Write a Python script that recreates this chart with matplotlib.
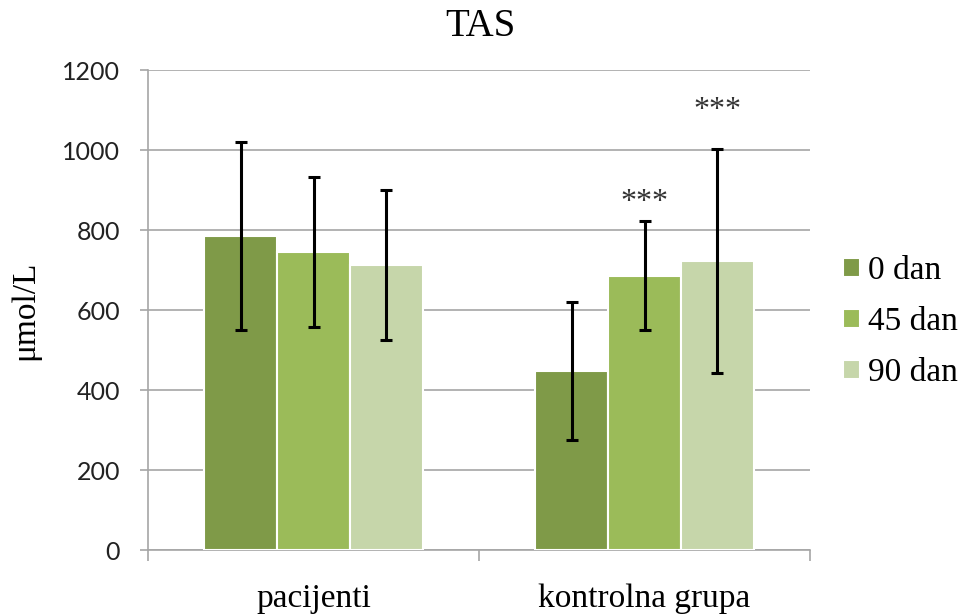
import matplotlib
matplotlib.use("Agg")
import matplotlib.pyplot as plt
import numpy as np

categories = ["pacijenti", "kontrolna grupa"]
series = ["0 dan", "45 dan", "90 dan"]
means = {
    "0 dan": [785, 448],
    "45 dan": [745, 686],
    "90 dan": [712, 723],
}
sds = {
    "0 dan": [235, 172],
    "45 dan": [187, 137],
    "90 dan": [187, 280],
}
annotations = {("45 dan", 1): "***", ("90 dan", 1): "***"}
colors = ["#7F9A48", "#9BBB59", "#C6D6AA"]

serif = "Liberation Serif"

fig = plt.figure(figsize=(9.63, 6.14), dpi=100)
ax = fig.add_axes([148/963, 64/614, 662/963, 480/614])

x = np.arange(len(categories))
width = 0.22
for i, s in enumerate(series):
    pos = x + (i - 1) * width
    ax.bar(pos, means[s], width, color=colors[i], edgecolor="white",
           linewidth=1.5, zorder=3, label=s)
    ax.errorbar(pos, means[s], yerr=sds[s], fmt="none", ecolor="black",
                elinewidth=2.2, capsize=4.3, capthick=2.2, zorder=4)
    for j in range(len(categories)):
        if (s, j) in annotations:
            top = means[s][j] + sds[s][j]
            ax.text(pos[j], top + 10 if s == "45 dan" else top + 60,
                    annotations[(s, j)], ha="center", va="bottom",
                    fontsize=23, family=serif, color="#333333")

ax.set_xlim(-0.5, 1.5)
ax.set_ylim(0, 1200)
ax.set_yticks(range(0, 1201, 200))
ax.yaxis.grid(True, color="#A6A6A6", linewidth=1.2, zorder=0)
ax.set_axisbelow(True)
for sp in ["top", "right"]:
    ax.spines[sp].set_visible(False)
for sp in ["left", "bottom"]:
    ax.spines[sp].set_color("#A6A6A6")
    ax.spines[sp].set_linewidth(1.2)

ax.set_xticks(x)
ax.set_xticklabels(categories, fontsize=24, family=serif)
ax.tick_params(axis="x", length=0, pad=24)
ax.set_xticks([-0.5, 0.5, 1.5], minor=True)
ax.tick_params(axis="x", which="minor", length=8, width=1.2, color="#A6A6A6")
ax.tick_params(axis="y", length=6, width=1.2, color="#A6A6A6", labelsize=18, pad=14)
for lab in ax.get_yticklabels():
    lab.set_family("Lato")
    lab.set_color("#222222")

ax.set_ylabel("μmol/L", fontsize=24, family=serif, labelpad=16)
fig.text(480/963, 1 - 27/614, "TAS", ha="center", va="center", fontsize=28, family=serif)

leg = ax.legend(loc="center left", bbox_to_anchor=((843 - 148) / 662, 0.475),
                frameon=False, prop={"family": serif, "size": 24},
                handlelength=0.5, handleheight=0.5, handletextpad=0.25,
                labelspacing=0.62, borderpad=0, borderaxespad=0)

fig.savefig("out.png", dpi=100)
